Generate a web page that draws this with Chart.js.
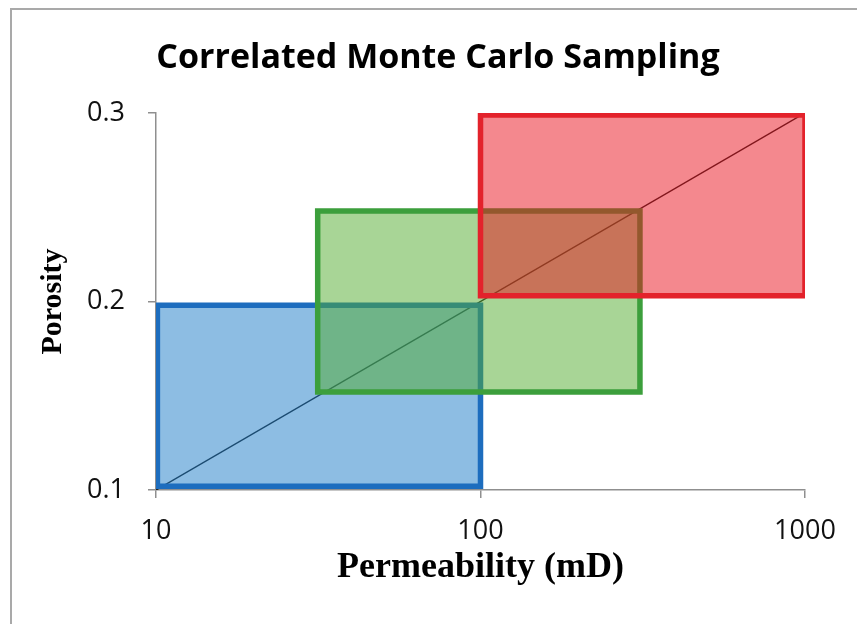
<!DOCTYPE html>
<html>
<head>
<meta charset="utf-8">
<script src="https://cdn.jsdelivr.net/npm/chart.js@4/dist/chart.umd.min.js"></script>
<style>
  html, body { margin: 0; padding: 0; background: #fff; }
  #frame {
    position: absolute; left: 10px; top: 8px; width: 900px; height: 700px;
    border-top: 2px solid #a9a9a9; border-left: 2px solid #a9a9a9;
  }
  #wrap { position: absolute; left: 0; top: 0; width: 857px; height: 624px; }
</style>
</head>
<body>
<div id="frame"></div>
<div id="wrap"><canvas id="mc-chart" width="857" height="624"></canvas></div>
<script>
/* ===================== DATA ===================== */

// sampling boxes: permeability (mD) range x porosity range
const boxNames = ["Low", "Mid", "High"];
const permMin = [10.1, 31.5, 100];
const permMax = [100, 310, 1000];
const poroMin = [0.102, 0.152, 0.203];
const poroMax = [0.198, 0.248, 0.299];

// correlation line end points
const trendPerm = [10, 1000];
const trendPoro = [0.1, 0.3];

const xTicks = [10, 100, 1000];
const yTicks = [0.1, 0.2, 0.3];

/* ===================== STYLE ===================== */

const boxBorder = ["#1d6dbe", "#3c9f3c", "#e3222b"];
const boxFill = ["rgba(27,123,199,0.5)", "rgba(81,171,45,0.5)", "rgba(233,17,29,0.5)"];
const axisGray = "#8f8f8f";

/* ===================== BUILD ===================== */

function boxPath(i) {
  return [
    { x: permMin[i], y: poroMin[i] },
    { x: permMax[i], y: poroMin[i] },
    { x: permMax[i], y: poroMax[i] },
    { x: permMin[i], y: poroMax[i] },
    { x: permMin[i], y: poroMin[i] },
  ];
}

const boxSets = boxNames.map((name, i) => ({
  label: name,
  data: boxPath(i),
  borderColor: boxBorder[i],
  backgroundColor: boxFill[i],
  borderWidth: 5.5,
  borderJoinStyle: "miter",
  borderCapStyle: "square",
  fill: "shape",
  pointRadius: 0,
  tension: 0,
  order: boxNames.length - i,
}));

const trendSet = {
  label: "trend",
  data: trendPerm.map((p, i) => ({ x: p, y: trendPoro[i] })),
  borderColor: "#1b1b1b",
  borderWidth: 1.5,
  pointRadius: 0,
  fill: false,
  order: 10,
};

const ctx = document.getElementById("mc-chart");

new Chart(ctx, {
  type: "line",
  data: { datasets: [trendSet, ...boxSets] },
  options: {
    responsive: false,
    animation: false,
    events: [],
    layout: { padding: { left: 71, right: 52, top: 0, bottom: 0 } },
    plugins: {
      legend: { display: false },
      tooltip: { enabled: false },
      title: {
        display: true,
        text: "Correlated Monte Carlo Sampling",
        color: "#000",
        font: { family: "'Open Sans'", size: 34, weight: "bold", lineHeight: 1.2 },
        padding: { top: 38, bottom: 34.2 },
      },
    },
    scales: {
      x: {
        type: "logarithmic",
        min: 10,
        max: 1000,
        afterBuildTicks: (s) => { s.ticks = xTicks.map((v) => ({ value: v })); },
        afterFit: (s) => { s.height = 134; },
        ticks: {
          color: "#111",
          font: { family: "'Open Sans'", size: 27 },
          padding: 17,
          maxRotation: 0,
          callback: (v) => String(v),
        },
        grid: {
          display: true,
          drawOnChartArea: false,
          drawTicks: true,
          tickLength: 8,
          color: axisGray,
          lineWidth: 1.5,
        },
        border: { display: true, color: axisGray, width: 1.5 },
        title: {
          display: true,
          text: "Permeability (mD)",
          color: "#000",
          font: { family: "'Liberation Serif'", size: 36, weight: "bold", lineHeight: 1.2 },
          padding: { top: 0, bottom: 35 },
        },
      },
      y: {
        type: "linear",
        min: 0.1,
        max: 0.3,
        afterBuildTicks: (s) => { s.ticks = yTicks.map((v) => ({ value: v })); },
        afterFit: (s) => { s.width = 85; },
        ticks: {
          color: "#111",
          font: { family: "'Open Sans'", size: 27 },
          padding: 23,
          callback: (v) => v.toFixed(1),
        },
        grid: {
          display: true,
          drawOnChartArea: false,
          drawTicks: true,
          tickLength: 8,
          color: axisGray,
          lineWidth: 1.5,
        },
        border: { display: true, color: axisGray, width: 1.5 },
        title: {
          display: true,
          text: "Porosity",
          color: "#000",
          font: { family: "'Liberation Serif'", size: 30, weight: "bold", lineHeight: 1.2 },
          padding: { top: -36, bottom: 0 },
        },
      },
    },
  },
});
</script>
</body>
</html>
